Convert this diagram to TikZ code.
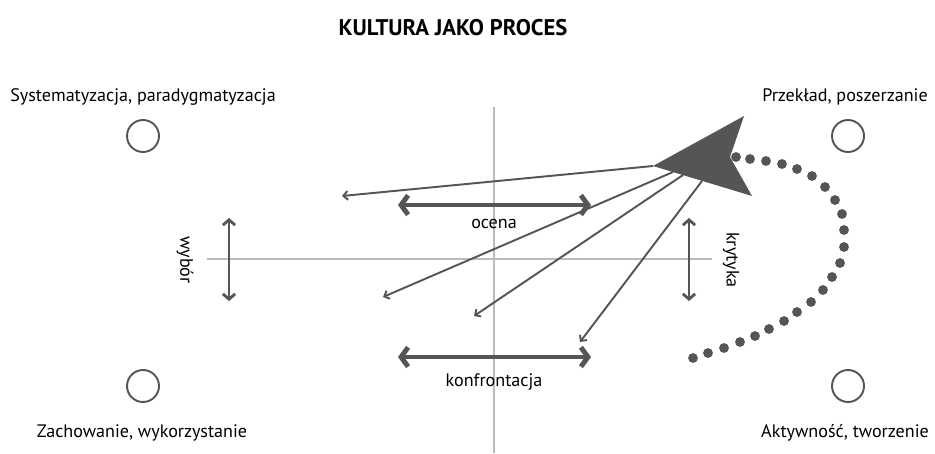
\documentclass[tikz,border=0pt]{standalone}
\usepackage{fontspec}
\setmainfont{PT Sans}
\usepackage{tikz}
\usetikzlibrary{arrows.meta}
\usetikzlibrary{positioning}
\definecolor{ink}{HTML}{555555}
\definecolor{axisgray}{HTML}{BBBBBB}
\tikzstyle{spot} = [circle, draw=ink, line width=1.1pt, inner sep=0pt, minimum size=0.64cm]
\tikzstyle{cornertext} = [anchor=base, inner sep=0pt, font=\fontsize{10.3}{12}\selectfont]
\tikzstyle{twoway} = [draw=ink, line width=2.8pt, {Straight Barb[length=4pt,width=11pt]}-{Straight Barb[length=4pt,width=11pt]}]
\tikzstyle{updown} = [draw=ink, line width=1.6pt, {Straight Barb[length=3pt,width=7pt]}-{Straight Barb[length=3pt,width=7pt]}]
\tikzstyle{ray} = [draw=ink, line width=1.1pt, -{Straight Barb[length=2.5pt,width=5pt]}]

\begin{document}
\begin{tikzpicture}[x=0.02cm, y=-0.02cm]

  \useasboundingbox (0,0) rectangle (935,453);

  % title
  \node[anchor=base, inner sep=0pt, font=\fontsize{12.9}{15}\selectfont\bfseries] (title) at (453,35) {KULTURA JAKO PROCES};

  % axes
  \draw[axisgray, line width=0.6pt] (494,107) -- (494,453);
  \draw[axisgray, line width=0.6pt] (207,259) -- (712,259);

  % four corners
  \node[spot] (sys) at (143,136) {};
  \node[spot] (prz) at (848,136) {};
  \node[spot] (zach) at (143,386) {};
  \node[spot] (akt) at (848,386) {};
  \node[cornertext] (systext) at (143,101) {Systematyzacja, paradygmatyzacja};
  \node[cornertext] (prztext) at (845,101) {Przekład, poszerzanie};
  \node[cornertext] (zachtext) at (142,437) {Zachowanie, wykorzystanie};
  \node[cornertext] (akttext) at (845,437) {Aktywność, tworzenie};

  % ocena and konfrontacja
  \coordinate (ocenaL) at (398,205);
  \coordinate (ocenaR) at (591,205);
  \draw[twoway] (ocenaL) -- (ocenaR);
  \node[cornertext] (ocena) at (494,228) {ocena};
  \coordinate (konfL) at (398,357);
  \coordinate (konfR) at (591,357);
  \draw[twoway] (konfL) -- (konfR);
  \node[cornertext] (konf) at (494,386) {konfrontacja};

  % wybor and krytyka
  \coordinate (wybT) at (229,218);
  \coordinate (wybB) at (229,301);
  \draw[updown] (wybT) -- (wybB);
  \node[cornertext, anchor=center, rotate=-90] (wybor) at (185,260) {wybór};
  \coordinate (krytT) at (689,218);
  \coordinate (krytB) at (689,301);
  \draw[updown] (krytT) -- (krytB);
  \node[cornertext, anchor=center, rotate=-90] (krytyka) at (731,260) {krytyka};

  % rays from the big arrow
  \coordinate (tip) at (653,166);
  \coordinate (s2) at (673,172);
  \coordinate (s3) at (683,175);
  \coordinate (s4) at (702,181);
  \coordinate (e1) at (342,196);
  \coordinate (e2) at (383,297);
  \coordinate (e3) at (474,316);
  \coordinate (e4) at (580,342);
  \draw[ray] (tip) -- (e1);
  \draw[ray] (s2) -- (e2);
  \draw[ray] (s3) -- (e3);
  \draw[ray] (s4) -- (e4);

  % dotted loop
  \foreach \p in {(736,157),(750,159),(766,161),(782,164),(797,169),(812,176),(825,187),(835,200),(842,214),(844,230),(844,247),(840,263),(832,277),(823,290),(811,302),(797,312),(784,321),(769,329),(755,336),(740,342),(724,348),(708,353),(693,358)}
    \fill[ink] \p circle (2.8pt);

  % big arrowhead
  \coordinate (upper) at (744,116);
  \coordinate (notch) at (730,157);
  \coordinate (lower) at (752,196);
  \fill[ink] (tip) -- (upper) -- (notch) -- (lower) -- cycle;

\end{tikzpicture}
\end{document}
